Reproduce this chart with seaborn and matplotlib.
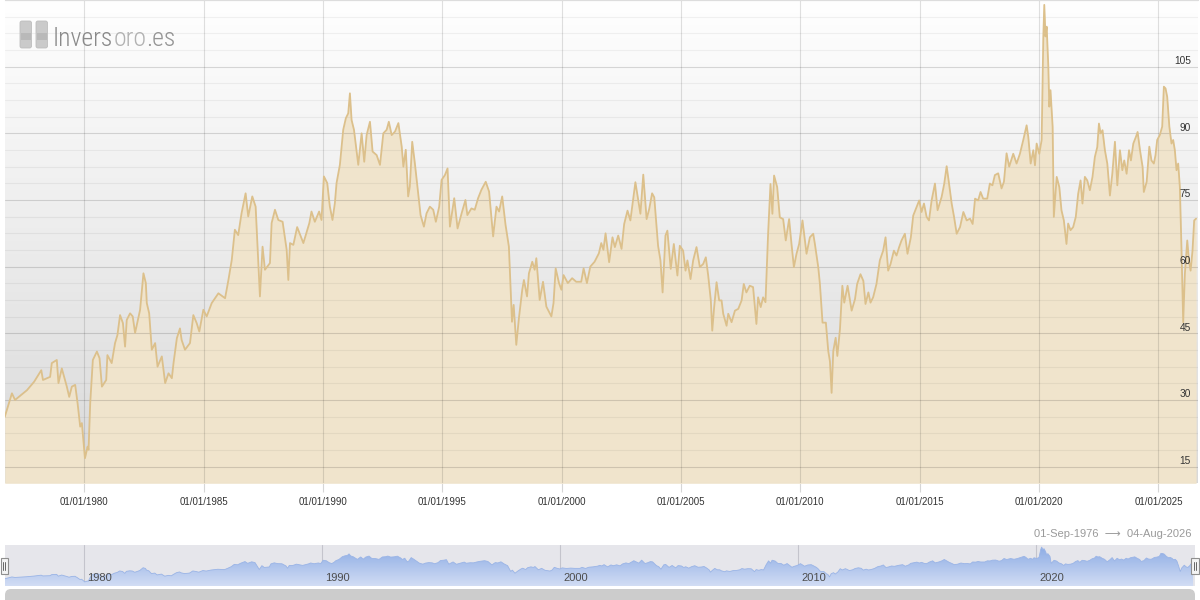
import numpy as np
import pandas as pd
import matplotlib
matplotlib.use("Agg")
import matplotlib.pyplot as plt
import seaborn as sns
from matplotlib.patches import FancyBboxPatch, Rectangle
from matplotlib.colors import LinearSegmentedColormap
import matplotlib.transforms as mtransforms

# ---------------- data ----------------
years_a = [1976.67, 1976.97, 1977.1, 1977.6, 1977.9, 1978.2, 1978.27, 1978.57, 1978.64, 1978.85,
           1978.92, 1979.06, 1979.27, 1979.37, 1979.48, 1979.62, 1979.72, 1979.83, 1979.9, 1980.03,
           1980.14, 1980.18, 1980.25, 1980.36, 1980.53, 1980.64, 1980.74, 1980.92, 1980.97, 1981.15,
           1981.29, 1981.39, 1981.5, 1981.62, 1981.71, 1981.78, 1981.92, 1982.03, 1982.13, 1982.34,
           1982.48, 1982.58, 1982.62, 1982.72, 1982.83, 1982.97, 1983.07, 1983.25, 1983.39, 1983.53,
           1983.67, 1983.74, 1983.88, 1984.01, 1984.08, 1984.22, 1984.43, 1984.57, 1984.71, 1984.82,
           1984.99]
ratio_a = [26.2, 31.5, 30.0, 32.2, 34.1, 36.7, 34.5, 35.2, 38.3, 39.0,
           33.8, 37.1, 33.0, 30.7, 33.0, 33.4, 29.3, 24.0, 24.8, 16.9,
           19.5, 18.8, 29.3, 39.0, 40.9, 39.4, 33.0, 34.5, 40.1, 38.3,
           42.8, 44.6, 49.1, 47.3, 42.0, 48.0, 49.5, 48.8, 45.1, 50.3,
           58.5, 56.3, 51.8, 49.5, 41.3, 42.8, 37.5, 39.8, 33.8, 36.0,
           34.9, 38.3, 43.9, 46.1, 43.5, 41.3, 42.8, 49.1, 47.3, 45.4,
           50.3]

years_b = [1985.13, 1985.34, 1985.62, 1985.9, 1986.04, 1986.18, 1986.31, 1986.45, 1986.59, 1986.76,
           1986.87, 1987.04, 1987.18, 1987.36, 1987.47, 1987.57, 1987.78, 1987.85, 1987.99, 1988.13,
           1988.31, 1988.48, 1988.55, 1988.62, 1988.76, 1988.92, 1989.18, 1989.43, 1989.52, 1989.66,
           1989.84, 1989.94, 1990.04, 1990.18, 1990.29, 1990.4, 1990.5, 1990.57, 1990.71, 1990.85,
           1990.96, 1991.06, 1991.13, 1991.2, 1991.3, 1991.48, 1991.62, 1991.73, 1991.83, 1991.97,
           1992.08, 1992.25, 1992.39, 1992.53, 1992.67, 1992.76, 1992.88, 1993.02, 1993.16]
ratio_b = [48.8, 51.8, 54.0, 52.9, 57.0, 61.5, 68.3, 67.1, 72.0, 76.5,
           71.3, 75.8, 73.5, 53.3, 64.5, 59.3, 60.8, 69.8, 72.8, 70.5,
           70.1, 63.8, 57.0, 65.3, 64.9, 68.9, 65.3, 69.8, 72.4, 70.1,
           72.4, 70.5, 80.3, 78.8, 73.5, 70.5, 74.3, 78.8, 82.9, 90.8,
           93.4, 94.5, 99.0, 93.0, 90.8, 82.9, 90.0, 83.6, 89.6, 92.6,
           85.9, 85.1, 82.9, 90.0, 90.8, 92.6, 89.6, 90.4, 92.3]

years_c = [1993.3, 1993.37, 1993.47, 1993.57, 1993.64, 1993.74, 1993.85, 1993.99, 1994.09, 1994.23,
           1994.34, 1994.48, 1994.62, 1994.73, 1994.87, 1994.97, 1995.11, 1995.22, 1995.32, 1995.5,
           1995.64, 1995.81, 1995.97, 1996.05, 1996.22, 1996.36, 1996.5, 1996.64, 1996.82, 1996.96,
           1997.13, 1997.27, 1997.38, 1997.51, 1997.65, 1997.79, 1997.92, 1997.99, 1998.1, 1998.21,
           1998.35, 1998.42, 1998.55, 1998.63, 1998.77, 1998.87, 1998.94, 1999.08, 1999.22, 1999.36,
           1999.57, 1999.66, 1999.75, 1999.89, 1999.99, 2000.08, 2000.26, 2000.44, 2000.61, 2000.82,
           2000.92, 2001.06, 2001.2, 2001.38, 2001.56, 2001.66, 2001.75, 2001.84]
ratio_c = [87.0, 82.5, 86.3, 75.8, 78.0, 88.1, 83.3, 76.5, 71.6, 69.0,
           72.0, 73.5, 72.8, 70.1, 73.5, 79.5, 80.6, 82.1, 69.0, 75.4,
           68.6, 72.0, 75.0, 71.6, 73.1, 72.8, 75.4, 77.3, 79.1, 76.9,
           66.8, 73.5, 72.4, 75.8, 69.4, 64.5, 47.6, 51.4, 42.4, 48.4,
           54.8, 57.0, 53.3, 58.5, 61.1, 59.3, 61.9, 52.5, 56.6, 51.0,
           48.8, 51.8, 59.6, 56.3, 54.8, 58.1, 56.3, 57.4, 56.6, 56.6,
           59.6, 56.3, 60.0, 61.1, 63.0, 65.3, 63.8, 67.5]

years_d = [2001.99, 2002.13, 2002.23, 2002.37, 2002.51, 2002.62, 2002.76, 2002.88, 2002.99, 2003.09,
           2003.21, 2003.3, 2003.42, 2003.56, 2003.67, 2003.79, 2003.88, 2004.04, 2004.14, 2004.23,
           2004.35, 2004.43, 2004.57, 2004.7, 2004.85, 2004.95, 2005.09, 2005.19, 2005.27, 2005.4,
           2005.51, 2005.65, 2005.79, 2005.93, 2006.04, 2006.14, 2006.25, 2006.31, 2006.39, 2006.49,
           2006.6, 2006.7, 2006.77, 2006.91, 2006.98, 2007.12, 2007.26, 2007.4, 2007.54, 2007.63,
           2007.74, 2007.88, 2008.02, 2008.16, 2008.23, 2008.34, 2008.44, 2008.54, 2008.65, 2008.75,
           2008.83, 2008.9, 2009.03, 2009.14, 2009.28, 2009.39, 2009.53, 2009.63, 2009.73, 2009.84,
           2009.95]
ratio_d = [61.0, 66.6, 64.4, 67.0, 64.0, 69.6, 72.6, 70.4, 74.9, 79.0,
           74.9, 71.9, 80.7, 70.7, 73.0, 76.5, 75.6, 64.7, 61.4, 54.2,
           67.0, 68.1, 59.5, 65.1, 58.0, 64.7, 63.6, 59.1, 61.4, 57.2,
           61.4, 64.4, 59.9, 60.6, 62.1, 58.0, 52.4, 45.6, 50.9, 56.5,
           52.4, 52.4, 49.4, 46.7, 49.4, 47.5, 50.1, 50.5, 52.4, 56.1,
           54.2, 55.7, 55.4, 47.1, 53.1, 50.9, 53.1, 52.0, 67.4, 78.6,
           71.9, 80.5, 77.9, 71.1, 70.7, 65.9, 70.7, 65.1, 59.9, 62.9,
           65.1]

years_e = [2010.09, 2010.26, 2010.40, 2010.54, 2010.61, 2010.75, 2010.82, 2010.93, 2011.07, 2011.17,
           2011.24, 2011.31, 2011.38, 2011.48, 2011.55, 2011.66, 2011.76, 2011.84, 2011.98, 2012.15,
           2012.29, 2012.38, 2012.52, 2012.64, 2012.73, 2012.85, 2012.94, 2013.05, 2013.19, 2013.33,
           2013.47, 2013.57, 2013.68, 2013.78, 2013.92, 2014.03, 2014.14, 2014.24, 2014.38, 2014.49,
           2014.63, 2014.73, 2014.87, 2014.98, 2015.08, 2015.18, 2015.29, 2015.39, 2015.50, 2015.64,
           2015.75, 2015.92, 2016.03, 2016.13, 2016.23, 2016.34, 2016.44, 2016.55, 2016.69, 2016.83,
           2016.97, 2017.11, 2017.22, 2017.32, 2017.45, 2017.55, 2017.66, 2017.83, 2017.94, 2018.05,
           2018.15, 2018.29, 2018.43, 2018.53, 2018.64, 2018.75]
ratio_e = [70.4, 62.9, 66.6, 67.4, 65.1, 59.9, 56.1, 47.4, 47.4, 41.0,
           38.7, 31.6, 41.0, 44.0, 39.9, 45.9, 55.7, 51.9, 55.7, 50.1,
           52.7, 56.1, 58.3, 56.8, 51.6, 54.2, 51.9, 53.1, 56.1, 61.4,
           63.6, 66.6, 59.1, 60.6, 63.6, 62.5, 64.4, 65.9, 67.4, 62.9,
           66.6, 71.5, 73.4, 74.9, 72.3, 74.2, 71.2, 70.4, 74.9, 78.7,
           72.7, 75.7, 78.7, 82.6, 78.7, 74.2, 71.2, 67.4, 68.9, 72.3,
           70.4, 70.8, 69.6, 75.3, 74.9, 76.8, 75.3, 75.3, 78.7, 78.3,
           80.6, 81.0, 77.6, 79.1, 85.5, 82.5]

years_f = [2018.92, 2019.06, 2019.2, 2019.34, 2019.48, 2019.55, 2019.65, 2019.76, 2019.83, 2019.9,
           2020.01, 2020.11, 2020.18, 2020.22, 2020.27, 2020.32, 2020.39, 2020.43, 2020.48, 2020.57,
           2020.62, 2020.74, 2020.85, 2020.94, 2021.04, 2021.15, 2021.22, 2021.32, 2021.43, 2021.54,
           2021.64, 2021.74, 2021.82, 2021.92, 2022.02, 2022.13, 2022.24, 2022.34, 2022.44, 2022.51,
           2022.58, 2022.66, 2022.76, 2022.86, 2022.97, 2023.07, 2023.18, 2023.28, 2023.39, 2023.49,
           2023.57, 2023.67, 2023.77, 2023.85, 2023.95, 2024.06, 2024.13, 2024.23, 2024.34, 2024.39,
           2024.51, 2024.62, 2024.71, 2024.81, 2024.88, 2024.95, 2025.06, 2025.16, 2025.23, 2025.3,
           2025.37, 2025.46, 2025.55, 2025.62, 2025.69, 2025.76, 2025.83, 2025.9, 2025.97, 2026.04,
           2026.11, 2026.21, 2026.28, 2026.35, 2026.43, 2026.5, 2026.58]
ratio_f = [85.4, 83.2, 85.4, 88.5, 91.8, 89.2, 83.2, 86.2, 82.8, 87.7,
           85.4, 88.5, 111.8, 118.9, 111.8, 114.0, 105.0, 96.0, 99.7, 91.5,
           71.2, 80.2, 77.9, 72.7, 70.4, 65.1, 69.7, 68.2, 68.9, 71.2,
           76.4, 79.4, 74.2, 80.2, 79.4, 77.2, 80.2, 84.7, 86.9, 92.2,
           90.0, 90.7, 86.2, 83.2, 76.0, 80.9, 88.1, 78.3, 86.2, 81.7,
           83.9, 80.9, 86.2, 83.9, 87.7, 89.2, 90.3, 86.2, 82.4, 76.8,
           79.1, 87.0, 83.9, 83.2, 85.1, 88.5, 89.6, 91.5, 100.5, 100.1,
           98.2, 91.5, 87.7, 88.5, 86.2, 81.7, 83.2, 77.9, 63.6, 47.5,
           58.4, 65.9, 61.4, 59.1, 63.6, 70.4, 70.8]

y_tick_values = [15, 30, 45, 60, 75, 90, 105]
x_tick_years = [1980, 1985, 1990, 1995, 2000, 2005, 2010, 2015, 2020, 2025]
nav_tick_years = [1980, 1990, 2000, 2010, 2020]
range_start = "01-Sep-1976"
range_end = "04-Aug-2026"

# ---------------- build table ----------------
df = pd.DataFrame({
    "year": np.concatenate([years_a, years_b, years_c, years_d, years_e, years_f]),
    "ratio": np.concatenate([ratio_a, ratio_b, ratio_c, ratio_d, ratio_e, ratio_f]),
})

sns.set_style("white")
plt.rcParams["font.family"] = ["Liberation Sans", "DejaVu Sans"]

W, H = 1200, 600
fig = plt.figure(figsize=(12, 6), dpi=100)
fig.patch.set_facecolor("white")


def frac(x0, y0, x1, y1):
    return [x0 / W, 1 - y1 / H, (x1 - x0) / W, (y1 - y0) / H]


XMIN, XMAX = 1976.68, 2026.66
YMIN, YMAX = 11.25, 120.0

# ---------------- main chart ----------------
ax = fig.add_axes(frac(5, 0, 1198, 483.3))
bg = LinearSegmentedColormap.from_list("bg", ["#ffffff", "#d9d9d9"])
grad = np.linspace(0, 1, 256).reshape(-1, 1)
ax.imshow(grad, cmap=bg, extent=(XMIN, XMAX, YMIN, YMAX), origin="upper",
          aspect="auto", zorder=0, interpolation="bilinear")

ax.fill_between(df["year"], df["ratio"], YMIN, color="#f0e4cc", lw=0, zorder=1)

for yv in np.arange(YMIN, YMAX + 0.01, 3.75):
    major = abs((yv / 15) - round(yv / 15)) < 1e-6
    ax.axhline(yv, color="black", alpha=0.14 if major else 0.05, lw=0.8, zorder=1.5)
for yr in x_tick_years:
    ax.axvline(yr, color="black", alpha=0.12, lw=0.8, zorder=1.5)

sns.lineplot(data=df, x="year", y="ratio", ax=ax, color="#dcc08b", lw=1.3,
             estimator=None, sort=False, zorder=2)

ax.set_xlim(XMIN, XMAX)
ax.set_ylim(YMIN, YMAX)
ax.set_xlabel("")
ax.set_ylabel("")
ax.set_yticks([])
ax.set_xticks(x_tick_years)
ax.set_xticklabels([f"01/01/{y}" for y in x_tick_years])
ax.tick_params(axis="x", direction="out", length=6.3, width=0.8, color="#d6d6d6",
               pad=3.5, labelsize=7, labelcolor="#333333", bottom=True)
for s in ["left", "right", "bottom"]:
    ax.spines[s].set_visible(False)
ax.spines["top"].set_color("#dddddd")
ax.spines["top"].set_linewidth(0.8)

ytrans = mtransforms.offset_copy(ax.get_yaxis_transform(), fig=fig, x=0, y=2.5, units="dots")
for yv in y_tick_values:
    ax.text(0.9941, yv, str(yv), transform=ytrans, ha="right", va="baseline",
            fontsize=7.3, color="#333333", zorder=5)

# ---------------- logo ----------------
for x0 in (0.20, 0.36):
    fig.add_artist(FancyBboxPatch((x0, 5.52), 0.115, 0.27,
                                  boxstyle="round,pad=0,rounding_size=0.02",
                                  transform=fig.dpi_scale_trans, fc="#cacaca",
                                  ec="#bdbdbd", lw=0.6))
    fig.add_artist(Rectangle((x0 + 0.01, 5.60), 0.095, 0.07,
                             transform=fig.dpi_scale_trans, fc="#b9b9b9", ec="none"))
logo_font = ["Roboto Condensed", "Roboto", "Liberation Sans", "DejaVu Sans"]
logo_kw = dict(fontsize=18.5, family=logo_font, fontweight="light", fontstretch="condensed")
t1 = fig.text(53 / W, 1 - 46 / H, "Invers", color="#8a8a8a",
              va="baseline", ha="left", **logo_kw)
t2 = ax.annotate("oro", xy=(1, 0), xycoords=t1, color="#b2b2b2",
                 va="bottom", ha="left", **logo_kw)
t3 = ax.annotate(".es", xy=(1, 0), xycoords=t2, color="#959595",
                 va="bottom", ha="left", **logo_kw)

# ---------------- date range ----------------
fig.text(1192 / W, 1 - 534 / H, f"{range_start}  \u27f6  {range_end}",
         ha="right", va="center", fontsize=8, color="#9a9a9a")

# ---------------- navigator ----------------
nav = fig.add_axes(frac(5, 545, 1195, 586))
nav.set_facecolor("#e6e6eb")
NYMIN, NYMAX = 5, 125
for yr in nav_tick_years:
    nav.axvline(yr, color="#c4c4cc", lw=0.8, zorder=0.5)
poly = nav.fill_between(df["year"], df["ratio"], NYMIN, color="none", lw=0)
blue = LinearSegmentedColormap.from_list("blue", ["#8aaae4", "#d2ddf4"])
im = nav.imshow(grad, cmap=blue, extent=(XMIN, XMAX, NYMIN, NYMAX), origin="upper",
                aspect="auto", zorder=1, interpolation="bilinear")
im.set_clip_path(poly.get_paths()[0], transform=nav.transData)
sns.lineplot(data=df, x="year", y="ratio", ax=nav, color="#9ab4e6", lw=0.6,
             estimator=None, sort=False, zorder=2)
nav.set_xlim(XMIN, XMAX)
nav.set_ylim(NYMIN, NYMAX)
nav.set_xticks([])
nav.set_yticks([])
nav.set_xlabel("")
nav.set_ylabel("")
for s in nav.spines.values():
    s.set_visible(False)
navtrans = mtransforms.offset_copy(nav.get_xaxis_transform(), fig=fig, x=3, y=0, units="dots")
for yr in nav_tick_years:
    nav.text(yr, 0.08, str(yr), transform=navtrans, ha="left", va="bottom",
             fontsize=8, color="#4d4d4d", zorder=5)

# handles
for hx in (0.005, 11.91):
    fig.add_artist(Rectangle((hx, 0.26), 0.075, 0.16, transform=fig.dpi_scale_trans,
                             fc="#f4f4f4", ec="#8f8f8f", lw=0.8))
    for dx in (0.027, 0.048):
        fig.add_artist(plt.Line2D([hx + dx, hx + dx], [0.30, 0.38],
                                  transform=fig.dpi_scale_trans, color="#666666", lw=0.7))

# scrollbar
fig.add_artist(FancyBboxPatch((0.05, -0.06), 11.9, 0.17,
                              boxstyle="round,pad=0,rounding_size=0.06",
                              transform=fig.dpi_scale_trans, fc="#cccccc", ec="none"))

fig.savefig("out.png", dpi=100)
